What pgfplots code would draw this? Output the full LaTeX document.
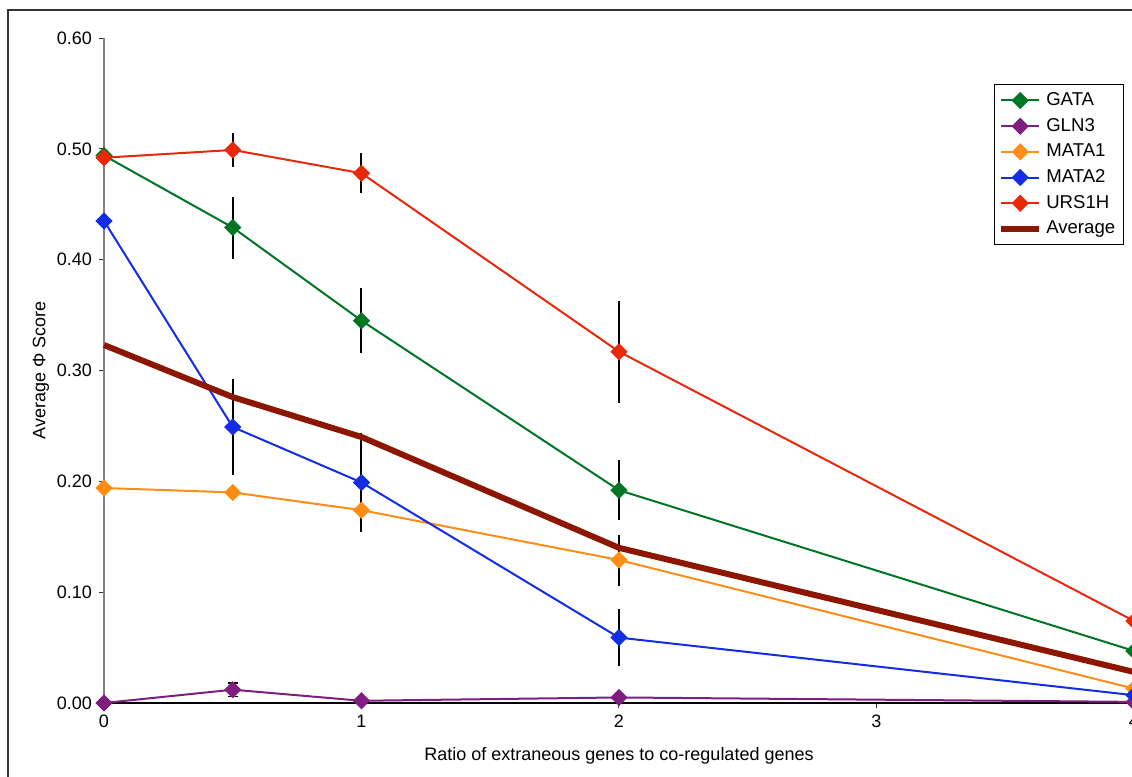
\documentclass[border=0pt]{standalone}
\usepackage{fontspec}
\setmainfont{Liberation Sans}
\usepackage{pgfplots}
\pgfplotsset{compat=1.18}

\definecolor{cgata}{RGB}{0,118,36}
\definecolor{cgln}{RGB}{128,30,128}
\definecolor{cmata1}{RGB}{255,140,20}
\definecolor{cmata2}{RGB}{18,45,228}
\definecolor{curs}{RGB}{232,40,10}
\definecolor{cavg}{RGB}{140,22,0}

% x  y  e
\pgfplotstableread{
x y e
0 0.494 0
0.5 0.429 0.028
1 0.345 0.029
2 0.192 0.027
4 0.047 0
}\gata
\pgfplotstableread{
x y e
0 0.000 0
0.5 0.012 0.006
1 0.002 0
2 0.005 0
4 0.001 0
}\glnthree
\pgfplotstableread{
x y e
0 0.194 0
0.5 0.190 0
1 0.174 0
2 0.129 0.023
4 0.013 0
}\mataone
\pgfplotstableread{
x y e
0 0.435 0
0.5 0.249 0.043
1 0.199 0.045
2 0.059 0.026
4 0.007 0
}\matatwo
\pgfplotstableread{
x y e
0 0.492 0
0.5 0.499 0.015
1 0.478 0.018
2 0.317 0.046
4 0.074 0
}\ursoneh
\pgfplotstableread{
x y
0 0.323
0.5 0.276
1 0.240
2 0.140
4 0.028
}\average

\begin{document}
\begin{tikzpicture}[x=0.5pt,y=0.5pt]
\useasboundingbox (-104,-74) rectangle (1028,703);
\clip (-104,-74) rectangle (1028,703);
\draw[line width=1pt, black!80] (-96,-80) -- (-96,693) -- (1040,693);
\begin{axis}[
    at={(0,0)}, anchor=origin,
    scale only axis,
    width=515pt, height=332.5pt,
    xmin=0, xmax=4, ymin=0, ymax=0.6,
    xtick={0,1,2,3,4},
    ytick={0,0.1,0.2,0.3,0.4,0.5,0.6},
    axis x line=bottom, axis y line=left,
    x axis line style={-, black, line width=0.6pt},
    y axis line style={-, gray, line width=0.6pt},
    tick align=outside,
    major tick length=2.5pt,
    tick style={black!80, line width=0.5pt},
    font=\fontsize{9}{11}\selectfont,
    /pgf/number format/assume math mode=true,
    yticklabel style={/pgf/number format/.cd, fixed, fixed zerofill, precision=2},
    xticklabel style={/pgf/number format/.cd, fixed},
    xlabel={Ratio of extraneous genes to co-regulated genes},
    ylabel={Average Φ Score},
    xlabel style={yshift=-3pt},
    ylabel style={yshift=-3pt},
    clip=false,
    every axis plot/.append style={line width=1pt},
    mark size=2.55pt,
    legend style={at={(0.99,0.931)}, anchor=north east, draw=black, line width=0.5pt,
        fill=white, font=\fontsize{9.3}{11}\selectfont, row sep=0.9pt,
        inner xsep=2pt, inner ysep=2pt, cells={anchor=west}},
    legend image code/.code={\draw[mark repeat=2,mark phase=2] plot coordinates {(0pt,0pt) (9.5pt,0pt) (19pt,0pt)};},
    error bars/error bar style={black, line width=1pt},
    error bars/error mark=none,
]
\addplot[cgata, mark=square*, mark options={rotate=45, solid}, error bars/.cd, y dir=both, y explicit]
    table[x=x, y=y, y error=e] {\gata};
\addlegendentry{GATA}
\addplot[cgln, mark=square*, mark options={rotate=45, solid}, error bars/.cd, y dir=both, y explicit,
    error mark=-, error mark options={rotate=90, black, mark size=2.5pt, line width=0.6pt}]
    table[x=x, y=y, y error=e] {\glnthree};
\addlegendentry{GLN3}
\addplot[cmata1, mark=square*, mark options={rotate=45, solid}, error bars/.cd, y dir=both, y explicit]
    table[x=x, y=y, y error=e] {\mataone};
\addlegendentry{MATA1}
\addplot[cmata2, mark=square*, mark options={rotate=45, solid}, error bars/.cd, y dir=both, y explicit]
    table[x=x, y=y, y error=e] {\matatwo};
\addlegendentry{MATA2}
\addplot[curs, mark=square*, mark options={rotate=45, solid}, error bars/.cd, y dir=both, y explicit]
    table[x=x, y=y, y error=e] {\ursoneh};
\addlegendentry{URS1H}
\addplot[cavg, line width=3pt, no markers] table[x=x, y=y] {\average};
\addlegendentry{Average}
\end{axis}
\end{tikzpicture}
\end{document}
